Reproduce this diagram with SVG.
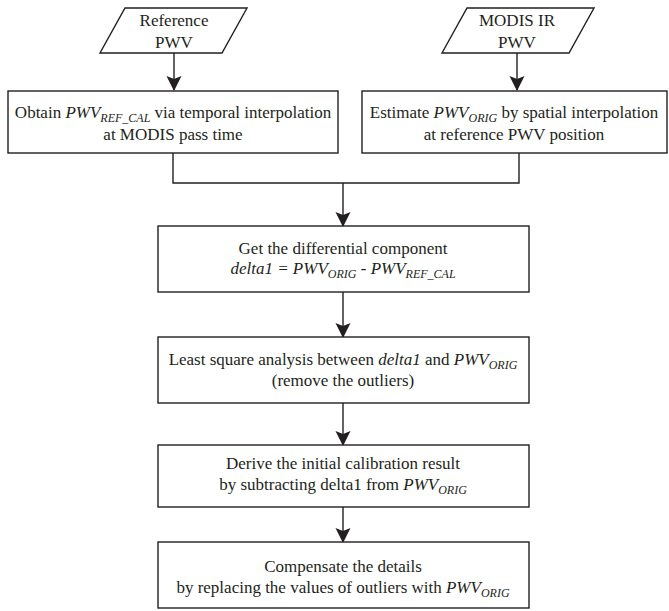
<svg xmlns="http://www.w3.org/2000/svg" width="669" height="611" viewBox="0 0 669 611">
<style>
.box{fill:#fff;stroke:#231f20;stroke-width:1.4}
.ln{fill:none;stroke:#231f20;stroke-width:1.4}
text{font-family:"Liberation Serif","Times New Roman",serif;font-size:17px;fill:#231f20;text-anchor:middle}
.i{font-style:italic}
.s{font-style:italic;font-size:12px}
</style>
<defs>
<marker id="ah" markerWidth="15" markerHeight="16" refX="14" refY="7.5" orient="auto" markerUnits="userSpaceOnUse">
<path d="M0,0 L15,7.5 L0,15 L3,7.5 Z" fill="#231f20"/>
</marker>
</defs>
<rect width="669" height="611" fill="#fff"/>
<g id="connectors">
<line class="ln" x1="174" y1="53" x2="174" y2="90" marker-end="url(#ah)"/>
<line class="ln" x1="517" y1="53" x2="517" y2="90" marker-end="url(#ah)"/>
<polyline class="ln" points="173,153 173,183 519,183 519,153"/>
<line class="ln" x1="343" y1="183" x2="343" y2="226" marker-end="url(#ah)"/>
<line class="ln" x1="343" y1="292" x2="343" y2="337" marker-end="url(#ah)"/>
<line class="ln" x1="343" y1="403" x2="343" y2="445" marker-end="url(#ah)"/>
<line class="ln" x1="343" y1="507" x2="343" y2="542" marker-end="url(#ah)"/>
</g>
<g id="ref-pwv">
<polygon class="box" points="125,8 247,8 222,53 100,53"/>
<text x="174" y="26">Reference</text>
<text x="174" y="48">PWV</text>
</g>
<g id="modis-pwv">
<polygon class="box" points="467,8 594,8 569,53 442,53"/>
<text x="517" y="26">MODIS IR</text>
<text x="517" y="48">PWV</text>
</g>
<g id="obtain">
<rect class="box" x="8" y="91" width="330" height="62"/>
<text x="173" y="118">Obtain <tspan class="i">PWV</tspan><tspan class="s" dy="4">REF_CAL</tspan><tspan dy="-4"> via temporal interpolation</tspan></text>
<text x="173" y="140">at MODIS pass time</text>
</g>
<g id="estimate">
<rect class="box" x="362" y="91" width="305" height="62"/>
<text x="514" y="118">Estimate <tspan class="i">PWV</tspan><tspan class="s" dy="4">ORIG</tspan><tspan dy="-4"> by spatial interpolation</tspan></text>
<text x="514" y="140">at reference PWV position</text>
</g>
<g id="differential">
<rect class="box" x="158" y="226" width="371" height="66"/>
<text x="343" y="254">Get the differential component</text>
<text x="343" y="274"><tspan class="i">delta1 = PWV</tspan><tspan class="s" dy="4">ORIG</tspan><tspan class="i" dy="-4"> - PWV</tspan><tspan class="s" dy="4">REF_CAL</tspan></text>
</g>
<g id="least-square">
<rect class="box" x="158" y="337" width="371" height="66"/>
<text x="343" y="365">Least square analysis between <tspan class="i">delta1</tspan> and <tspan class="i">PWV</tspan><tspan class="s" dy="4">ORIG</tspan></text>
<text x="343" y="386">(remove the outliers)</text>
</g>
<g id="derive">
<rect class="box" x="158" y="445" width="371" height="62"/>
<text x="343" y="469">Derive the initial calibration result</text>
<text x="343" y="490">by subtracting delta1 from <tspan class="i">PWV</tspan><tspan class="s" dy="4">ORIG</tspan></text>
</g>
<g id="compensate">
<rect class="box" x="158" y="542" width="371" height="66"/>
<text x="343" y="572">Compensate the details</text>
<text x="343" y="593">by replacing the values of outliers with <tspan class="i">PWV</tspan><tspan class="s" dy="4">ORIG</tspan></text>
</g>
</svg>
